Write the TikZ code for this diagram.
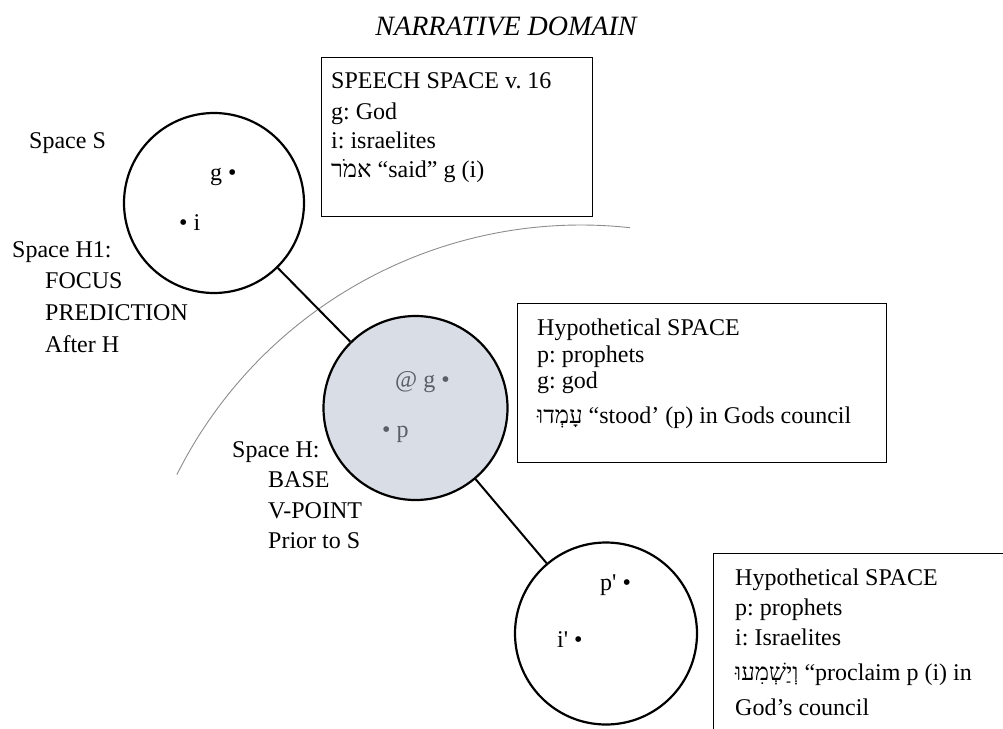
\documentclass[tikz,border=0pt]{standalone}
\usepackage{fontspec}
\setmainfont{Liberation Serif}
\newfontfamily\plainf{Liberation Serif}[Ligatures=TeXOff]
\newfontfamily\hebf{Liberation Serif}[Script=Hebrew]
\TeXXeTstate=1
\frenchspacing
\definecolor{inkgray}{HTML}{5A5F66}
\definecolor{hfill}{HTML}{D9DDE6}
\definecolor{arcgray}{HTML}{8C8C8C}
\begin{document}
\begin{tikzpicture}[x=1pt,y=1pt,
  body/.style={font=\fontsize{24}{28}\selectfont, inner sep=0pt, anchor=base west},
  gbody/.style={body, text=inkgray},
  spc/.style={circle, draw, line width=2.2pt, inner sep=0pt},
  frame/.style={draw, line width=1.3pt, inner sep=0pt, anchor=north west},
  link/.style={line width=2pt},
]
\useasboundingbox (0,0) rectangle (1003,-728);

% title
\node[font=\fontsize{28}{32}\selectfont\itshape, inner sep=0pt, anchor=base] (title) at (506,-35) {NARRATIVE DOMAIN};

% dividing arc
\draw[arcgray, line width=0.9pt] (581,-677) ++(153.4:452) arc (153.4:83.8:452);

% spaces
\node[spc, minimum size=180pt] (S) at (214,-203) {};
\node[spc, minimum size=184pt, fill=hfill] (H) at (415.5,-408) {};
\node[spc, minimum size=182pt] (I) at (606,-633.5) {};
\draw[link] (S) -- (H);
\draw[link] (H) -- (I);

% contents of spaces
\node[body] (Sg) at (210,-180) {g •};
\node[body] (Si) at (179,-230) {• i};
\node[gbody] (Hg) at (395,-387) {@ g •};
\node[gbody] (Hp) at (382,-437) {• p};
\node[body] (Ip) at (600,-590) {{\plainf p'} •};
\node[body] (Ii) at (557,-647) {{\plainf i'} •};

% side labels
\node[body] (lS) at (29,-148) {Space S};
\node[body] (lH1) at (12,-257) {Space H1:};
\node[body] (lH1a) at (45,-288) {FOCUS};
\node[body] (lH1b) at (45,-320) {PREDICTION};
\node[body] (lH1c) at (45,-352) {After H};
\node[body] (lH) at (232,-457) {Space H:};
\node[body] (lHa) at (268,-487) {BASE};
\node[body] (lHb) at (268,-518) {V-POINT};
\node[body] (lHc) at (268,-548) {Prior to S};

% box 1
\node[frame, minimum width=271pt, minimum height=159pt] (B1) at (321,-57) {};
\node[body] (B1a) at (331,-88) {SPEECH SPACE v. 16};
\node[body] (B1b) at (331,-119) {g: God};
\node[body] (B1c) at (331,-148) {i: israelites};
\node[body] (B1d) at (331,-177) {{\hebf\beginR אמֹר\endR} “said” g (i)};

% box 2
\node[frame, minimum width=369pt, minimum height=159pt] (B2) at (517,-303) {};
\node[body] (B2a) at (537,-335) {Hypothetical SPACE};
\node[body] (B2b) at (537,-362) {p: prophets};
\node[body] (B2c) at (537,-388) {g: god};
\node[body] (B2d) at (537,-423) {{\hebf\beginR עָמְדוּ\endR} “stood’ (p) in Gods council};

% box 3
\node[frame, minimum width=300pt, minimum height=185pt] (B3) at (713,-553) {};
\node[body] (B3a) at (735,-585) {Hypothetical SPACE};
\node[body] (B3b) at (735,-615) {p: prophets};
\node[body] (B3c) at (735,-645) {i: Israelites};
\node[body] (B3d) at (735,-680) {{\hebf\beginR וְיַשְׁמִעוּ\endR} “proclaim p (i) in};
\node[body] (B3e) at (735,-715) {God’s council};
\end{tikzpicture}
\end{document}
